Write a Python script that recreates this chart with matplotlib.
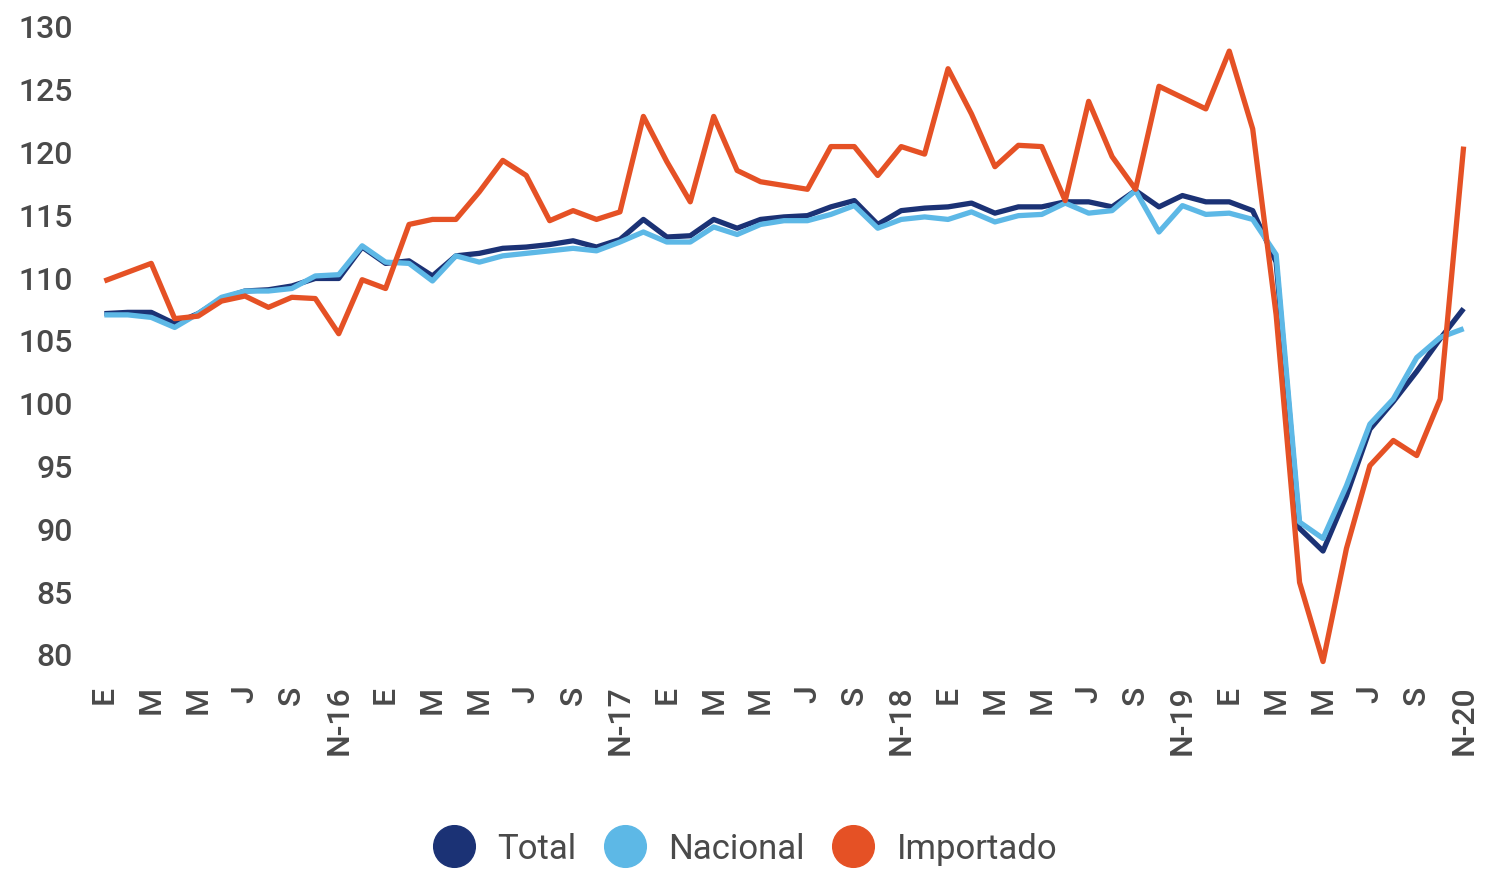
import matplotlib.pyplot as plt
from matplotlib.lines import Line2D

#------------------
# Data (monthly index, Jan 2016 - Nov 2020)
#------------------

tick_labels = ['E', 'M', 'M', 'J', 'S', 'N-16',
               'E', 'M', 'M', 'J', 'S', 'N-17',
               'E', 'M', 'M', 'J', 'S', 'N-18',
               'E', 'M', 'M', 'J', 'S', 'N-19',
               'E', 'M', 'M', 'J', 'S', 'N-20']

total = [107.1, 107.2, 107.2, 106.3, 107.1, 108.3, 108.9, 109.0, 109.3, 109.9,
         109.9, 112.4, 111.1, 111.3, 110.1, 111.7, 111.9, 112.3, 112.4, 112.6,
         112.9, 112.4, 113.0, 114.6, 113.2, 113.3, 114.6, 113.9, 114.6, 114.8,
         114.9, 115.6, 116.1, 114.2, 115.3, 115.5, 115.6, 115.9, 115.1, 115.6,
         115.6, 116.0, 116.0, 115.6, 116.9, 115.6, 116.5, 116.0, 116.0, 115.3,
         111.2, 90.0, 88.2, 92.6, 97.9, 100.1, 102.5, 105.1, 107.5]

nacional = [107.0, 107.0, 106.8, 106.0, 107.1, 108.4, 108.9, 108.9, 109.1, 110.1,
            110.2, 112.5, 111.2, 111.1, 109.7, 111.7, 111.2, 111.7, 111.9, 112.1,
            112.3, 112.1, 112.8, 113.6, 112.8, 112.8, 114.0, 113.4, 114.2, 114.5,
            114.5, 115.0, 115.7, 113.9, 114.6, 114.8, 114.6, 115.2, 114.4, 114.9,
            115.0, 115.9, 115.1, 115.3, 116.9, 113.6, 115.7, 115.0, 115.1, 114.6,
            111.8, 90.5, 89.2, 93.4, 98.3, 100.3, 103.6, 105.2, 105.9]

importado = [109.7, 110.4, 111.1, 106.7, 106.9, 108.1, 108.5, 107.6, 108.4, 108.3,
             105.5, 109.8, 109.1, 114.2, 114.6, 114.6, 116.8, 119.3, 118.1, 114.5,
             115.3, 114.6, 115.2, 122.8, 119.2, 116.0, 122.8, 118.5, 117.6, 117.3,
             117.0, 120.4, 120.4, 118.1, 120.4, 119.8, 126.6, 123.0, 118.8, 120.5,
             120.4, 116.1, 124.0, 119.6, 117.0, 125.2, 124.3, 123.4, 128.0, 121.8,
             107.0, 85.7, 79.4, 88.4, 95.0, 97.0, 95.8, 100.3, 120.4]

series_names = ['Total', 'Nacional', 'Importado']
colors = ['#1B3275', '#5DB8E6', '#E55125']

#------------------
# Plot
#------------------

plt.rcParams['font.family'] = ['Roboto', 'DejaVu Sans']

fig = plt.figure(figsize=(14.87, 8.78), dpi=100)
ax = fig.add_axes([95 / 1487, (878 - 655) / 878, (1473 - 95) / 1487, (655 - 27) / 878])

x = list(range(len(total)))
for values, color, z in zip([total, nacional, importado], colors, [2, 3, 4]):
    ax.plot(x, values, color=color, linewidth=3.8, solid_joinstyle='round',
            solid_capstyle='butt', zorder=z, clip_on=False)

ax.set_xlim(-0.4, 58.4)
ax.set_ylim(80, 130)
ax.set_yticks(range(80, 131, 5))
ax.set_xticks(range(0, len(total), 2))
ax.set_xticklabels(tick_labels, rotation=90)

for side in ['top', 'right', 'left', 'bottom']:
    ax.spines[side].set_visible(False)
ax.tick_params(axis='both', length=0, labelsize=23, labelcolor='#4a4a4a')
for lbl in ax.get_xticklabels() + ax.get_yticklabels():
    lbl.set_fontweight('medium')
ax.tick_params(axis='y', pad=16)
ax.tick_params(axis='x', pad=22)

# Legend with big round markers
handles = [Line2D([], [], linestyle='none', marker='o', markersize=30,
                  markerfacecolor=c, markeredgecolor=c) for c in colors]
fig.legend(handles, series_names, loc='center', bbox_to_anchor=(747 / 1487, 1 - 850 / 878),
           ncol=3, frameon=False, fontsize=25, labelcolor='#4a4a4a',
           handletextpad=0.75, columnspacing=0.9, handlelength=1.0)

fig.savefig('out.png', dpi=100)
